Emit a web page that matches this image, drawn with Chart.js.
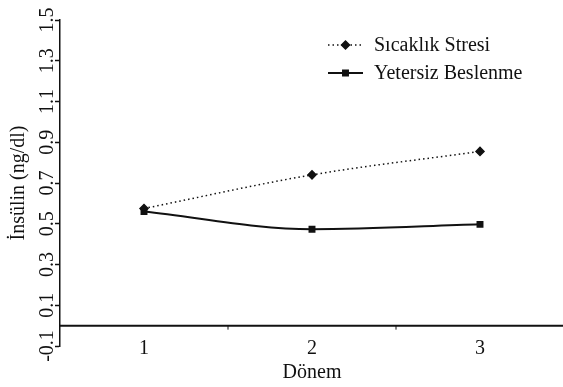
<!DOCTYPE html>
<html>
<head>
<meta charset="utf-8">
<script src="https://cdn.jsdelivr.net/npm/chart.js@4.4.1/dist/chart.umd.min.js"></script>
<style>
  html, body { margin: 0; padding: 0; background: #fff; overflow: hidden; }
  /* a few px wider than the window: the plot in the figure runs off its right edge */
  #wrap { width: 570px; height: 387px; position: relative; }
</style>
</head>
<body>
<div id="wrap"><canvas id="insulinChart"></canvas></div>
<script>
// data
const periods = ['1', '2', '3'];
const sicaklikStresi = [0.575, 0.74, 0.855];
const yetersizBeslenme = [0.56, 0.473, 0.497];
const yTicks = [-0.1, 0.1, 0.3, 0.5, 0.7, 0.9, 1.1, 1.3, 1.5];

const serif = '"Liberation Serif", "Times New Roman", serif';
const ink = '#111';

// horizontal line at y = 0 with small ticks between the periods
const zeroLine = {
    id: 'zeroLine',
    beforeDatasetsDraw(chart) {
        const { ctx, chartArea, scales: { x, y } } = chart;
        const y0 = y.getPixelForValue(0);
        ctx.save();
        ctx.strokeStyle = ink;
        ctx.lineWidth = 2;
        ctx.beginPath();
        ctx.moveTo(chartArea.left, y0);
        ctx.lineTo(chart.width, y0);
        ctx.stroke();
        ctx.lineWidth = 1;
        for (let i = 0; i < periods.length - 1; i++) {
            const px = (x.getPixelForValue(i) + x.getPixelForValue(i + 1)) / 2;
            ctx.beginPath();
            ctx.moveTo(px, y0);
            ctx.lineTo(px, y0 + 4);
            ctx.stroke();
        }
        ctx.restore();
    }
};

// legend inside the plot, top right
const innerLegend = {
    id: 'innerLegend',
    afterDraw(chart) {
        const ctx = chart.ctx;
        const x0 = 328, x1 = 363, tx = 374;
        const rows = [45, 73];
        ctx.save();
        ctx.font = '20px ' + serif;
        ctx.textBaseline = 'middle';
        chart.data.datasets.forEach((ds, i) => {
            const yy = rows[i];
            ctx.strokeStyle = ds.borderColor;
            ctx.lineWidth = ds.borderWidth;
            ctx.setLineDash(ds.borderDash || []);
            ctx.beginPath();
            ctx.moveTo(x0, yy);
            ctx.lineTo(x1, yy);
            ctx.stroke();
            ctx.setLineDash([]);
            ctx.fillStyle = ink;
            Chart.helpers.drawPoint(ctx, {
                pointStyle: ds.pointStyle,
                radius: ds.pointRadius,
                borderWidth: 1,
                rotation: 0
            }, (x0 + x1) / 2, yy);
            ctx.fillStyle = ink;
            ctx.fillText(ds.label, tx, yy + 1);
        });
        ctx.restore();
    }
};

const ctx = document.getElementById('insulinChart').getContext('2d');

new Chart(ctx, {
    type: 'line',
    data: {
        labels: periods,
        datasets: [{
            label: 'Sıcaklık Stresi',
            data: sicaklikStresi,
            borderColor: ink,
            backgroundColor: ink,
            borderWidth: 1.5,
            borderDash: [1.5, 3],
            pointStyle: 'rectRot',
            pointRadius: 4,
            cubicInterpolationMode: 'monotone'
        }, {
            label: 'Yetersiz Beslenme',
            data: yetersizBeslenme,
            borderColor: ink,
            backgroundColor: ink,
            borderWidth: 2,
            pointStyle: 'rect',
            pointRadius: 3.5,
            cubicInterpolationMode: 'monotone'
        }]
    },
    options: {
        responsive: true,
        maintainAspectRatio: false,
        animation: false,
        layout: { padding: { top: 20, right: 0, left: 0, bottom: 0 } },
        plugins: {
            legend: { display: false },
            tooltip: { enabled: false }
        },
        scales: {
            x: {
                offset: true,
                grid: { display: false, drawTicks: false },
                border: { display: false },
                ticks: {
                    color: ink,
                    padding: -9,
                    font: { family: serif, size: 20 }
                },
                title: {
                    display: true,
                    text: 'Dönem',
                    color: ink,
                    padding: { top: 0, bottom: 2 },
                    font: { family: serif, size: 20 }
                },
                afterFit(scale) {
                    scale.height = 41;
                    // let the period labels reach a little above the axis box
                    scale._computeLabelArea = () => undefined;
                }
            },
            y: {
                min: -0.1,
                max: 1.5,
                afterBuildTicks(scale) {
                    scale.ticks = yTicks.map(v => ({ value: v }));
                },
                grid: {
                    drawOnChartArea: false,
                    drawTicks: true,
                    tickLength: 5,
                    tickColor: ink,
                    tickWidth: 1.5
                },
                border: { display: true, color: ink, width: 1.5 },
                ticks: {
                    color: ink,
                    minRotation: 90,
                    maxRotation: 90,
                    crossAlign: 'center',
                    padding: -9,
                    font: { family: serif, size: 20 },
                    callback: v => v.toFixed(1)
                },
                title: {
                    display: true,
                    text: 'İnsülin (ng/dl)',
                    color: ink,
                    padding: { top: 7, bottom: 0 },
                    font: { family: serif, size: 20 }
                },
                afterFit(scale) { scale.width = 60; }
            }
        }
    },
    plugins: [zeroLine, innerLegend]
});
</script>
</body>
</html>
